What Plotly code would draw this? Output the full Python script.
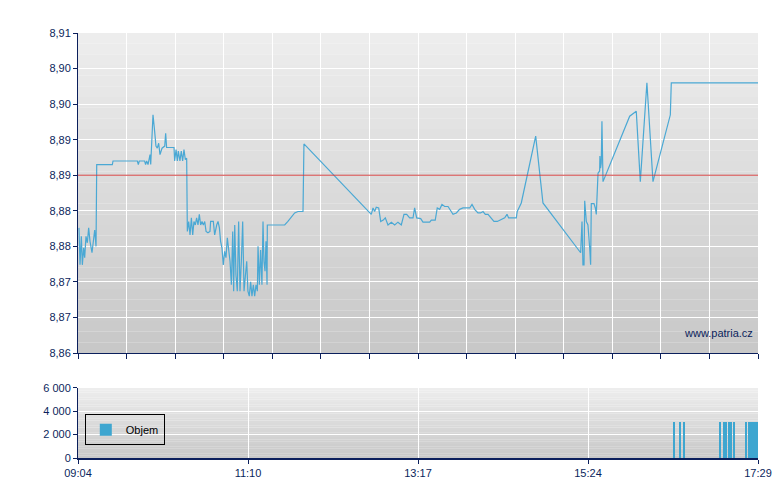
import plotly.graph_objects as go

# price ticks as (minutes after 09:04, price)
morning = [(0.74, 8.8776), (1.49, 8.8724), (2.48, 8.8764), (3.22, 8.8724), (4.21, 8.8748), (4.95, 8.8734),
           (5.94, 8.8764), (6.93, 8.8755), (7.92, 8.8776), (8.91, 8.8757), (10.4, 8.8741), (11.4, 8.8762),
           (12.4, 8.8773), (13.4, 8.8750), (13.9, 8.8865), (25.5, 8.8865), (26.0, 8.8870), (44.1, 8.8870),
           (44.8, 8.8865), (45.5, 8.8870), (49.5, 8.8870), (50.2, 8.8865), (51.0, 8.8870), (52.0, 8.8865),
           (53.0, 8.8872), (53.5, 8.8879), (54.0, 8.8865), (55.0, 8.8902), (55.7, 8.8935), (56.9, 8.8912),
           (57.9, 8.8891), (58.9, 8.8888), (59.9, 8.8895), (60.9, 8.8879), (62.4, 8.8888), (64.4, 8.8891),
           (65.1, 8.8909), (65.8, 8.8889), (71.3, 8.8889), (71.8, 8.8870), (72.8, 8.8886), (73.8, 8.8870),
           (74.5, 8.8884), (75.7, 8.8870), (76.7, 8.8884), (77.7, 8.8870), (78.7, 8.8886), (79.7, 8.8872),
           (80.7, 8.8874), (81.2, 8.8771), (82.2, 8.8785), (83.2, 8.8766), (84.2, 8.8790), (85.2, 8.8766),
           (86.1, 8.8785), (87.1, 8.8780), (88.1, 8.8790), (89.1, 8.8780), (90.1, 8.8795), (91.1, 8.8780),
           (92.1, 8.8785), (93.1, 8.8780), (94.1, 8.8785), (95.1, 8.8771), (96.5, 8.8769), (98.0, 8.8771),
           (98.5, 8.8785), (100.5, 8.8785), (101.5, 8.8766), (103.0, 8.8780), (104.0, 8.8785), (105.0, 8.8776)]
midday = [(105.9, 8.8757), (106.9, 8.8748), (107.9, 8.8724), (108.9, 8.8743), (109.9, 8.8734),
          (110.9, 8.8762), (111.9, 8.8741), (112.9, 8.8729), (113.9, 8.8696), (114.9, 8.8771), (115.6, 8.8687),
          (116.4, 8.8780), (117.3, 8.8710), (118.3, 8.8687), (119.3, 8.8785), (120.3, 8.8687), (121.3, 8.8729),
          (122.3, 8.8785), (123.3, 8.8687), (124.3, 8.8705), (125.3, 8.8729), (126.2, 8.8687), (127.2, 8.8680),
          (128.2, 8.8700), (129.2, 8.8680), (130.2, 8.8696), (131.2, 8.8680), (132.2, 8.8696), (133.2, 8.8687),
          (133.7, 8.8750), (134.7, 8.8696), (135.6, 8.8745), (136.6, 8.8696), (137.4, 8.8785), (138.1, 8.8729),
          (138.9, 8.8715), (139.6, 8.8757), (140.4, 8.8696), (140.6, 8.8780), (153.5, 8.8780), (155.9, 8.8785),
          (160.9, 8.8797), (163.4, 8.8799), (167.1, 8.8799), (167.8, 8.8894)]
afternoon = [(217.8, 8.8795), (219.1, 8.8804), (220.3, 8.8799), (221.5, 8.8805), (223.3, 8.8804),
             (224.8, 8.8785), (226.7, 8.8787), (228.2, 8.8790), (230.2, 8.8780), (232.7, 8.8784),
             (235.2, 8.8780), (237.6, 8.8784), (240.1, 8.8780), (242.1, 8.8795), (244.1, 8.8795),
             (246.3, 8.8790), (248.8, 8.8790), (250.0, 8.8804), (251.5, 8.8790), (254.5, 8.8789),
             (256.2, 8.8784), (261.2, 8.8784), (262.4, 8.8787), (265.3, 8.8787), (266.8, 8.8804),
             (268.6, 8.8802), (270.3, 8.8809), (272.3, 8.8806), (274.8, 8.8806), (277.2, 8.8799),
             (278.5, 8.8795), (281.0, 8.8797), (283.4, 8.8802), (285.9, 8.8804), (290.9, 8.8804),
             (292.6, 8.8809), (294.6, 8.8802), (297.0, 8.8797), (299.0, 8.8797), (300.8, 8.8799),
             (302.5, 8.8795), (304.5, 8.8795), (306.5, 8.8790), (308.9, 8.8785), (311.4, 8.8785),
             (316.9, 8.8790), (318.6, 8.8795), (319.8, 8.8790), (325.5, 8.8790), (326.2, 8.8799),
             (329.2, 8.8811), (339.9, 8.8905), (345.3, 8.8811)]
late = [(373.3, 8.8741), (374.3, 8.8785), (375.0, 8.8724), (375.8, 8.8724), (376.3, 8.8814),
        (377.5, 8.8785), (378.7, 8.8780), (380.0, 8.8748), (380.7, 8.8724), (381.2, 8.8810), (383.2, 8.8810),
        (384.2, 8.8804), (384.9, 8.8795), (386.2, 8.8853), (387.4, 8.8856), (387.6, 8.8877), (388.1, 8.8860),
        (388.6, 8.8867), (389.1, 8.8926), (389.9, 8.8841), (409.7, 8.8933), (414.6, 8.8940), (417.6, 8.8841),
        (422.5, 8.8980), (427.0, 8.8841), (439.9, 8.8935), (440.6, 8.8980), (505.0, 8.8980)]
ref_price = 8.885

vol_min = [442.6, 447.1, 450.0, 476.8, 479.7, 481.2, 483.4, 484.9, 487.1, 496.0, 498.3, 499.0,
           500.5, 502.0, 503.5, 504.8]
volume = [3100] * 16

y_ticks = [8.86, 8.865, 8.87, 8.875, 8.88, 8.885, 8.89, 8.895, 8.90, 8.905]
y_labels = ["8,86", "8,87", "8,87", "8,88", "8,88", "8,89", "8,89", "8,90", "8,90", "8,91"]
x_ticks = [0, 126.25, 252.5, 378.75, 505]
x_labels = ["09:04", "11:10", "13:17", "15:24", "17:29"]

pts = morning + midday + afternoon + late
t_min = [p[0] for p in pts]
price = [p[1] for p in pts]

navy = "#0b1f5c"
font = dict(family="Liberation Sans, Arial", size=11, color=navy)

fig = go.Figure()
fig.add_trace(go.Scatter(x=t_min, y=price, mode="lines", line=dict(color="#4aa8d4", width=1.2),
                         showlegend=False, xaxis="x", yaxis="y"))
fig.add_trace(go.Scatter(x=[0, 505], y=[ref_price, ref_price], mode="lines",
                         line=dict(color="#d04040", width=1), showlegend=False))
fig.add_trace(go.Bar(x=vol_min, y=volume, width=0.3, marker=dict(color="#3ea6d0", line=dict(width=0)),
                     name="Objem", xaxis="x2", yaxis="y2"))

# grey vertical gradient backgrounds
n = 30
for dom in [(0.247, 1.0), (0.0, 0.165)]:
    for i in range(n):
        c = int(200 + (238 - 200) * (i + 0.5) / n)
        fig.add_shape(type="rect", xref="paper", yref="paper", x0=0, x1=1,
                      y0=dom[0] + (dom[1] - dom[0]) * i / n, y1=dom[0] + (dom[1] - dom[0]) * (i + 1) / n,
                      fillcolor=f"rgb({c},{c},{c})", line=dict(width=0), layer="below")

fig.add_annotation(text="www.patria.cz", xref="paper", yref="paper", x=0.995, y=0.275,
                   xanchor="right", yanchor="bottom", showarrow=False, font=font)

fig.update_layout(
    width=780, height=490, margin=dict(l=70, r=30, t=25, b=40),
    paper_bgcolor="white", plot_bgcolor="rgba(0,0,0,0)", font=font,
    bargap=0,
    xaxis=dict(domain=[0, 1], range=[0, 505], anchor="y", tickvals=[505 / 14 * i for i in range(15)],
               showticklabels=False, ticks="outside", ticklen=5, tickcolor=navy, automargin=False,
               showgrid=True, gridcolor="white", gridwidth=1.2, showline=True, linecolor=navy, zeroline=False),
    yaxis=dict(domain=[0.247, 1], range=[8.86, 8.905], tickvals=y_ticks, ticktext=y_labels, automargin=False,
               ticks="outside", ticklen=4, tickcolor=navy, showgrid=True, gridcolor="white", gridwidth=1.2,
               showline=True, linecolor=navy, zeroline=False),
    xaxis2=dict(domain=[0, 1], range=[0, 505], anchor="y2", tickvals=x_ticks, ticktext=x_labels, automargin=False,
                ticks="outside", ticklen=4, tickcolor=navy, showgrid=True, gridcolor="white", gridwidth=1.2,
                showline=True, linecolor=navy, linewidth=1.5, zeroline=False),
    yaxis2=dict(domain=[0, 0.165], range=[0, 6000], tickvals=[0, 2000, 4000, 6000], automargin=False,
                ticktext=["0", "2 000", "4 000", "6 000"], ticks="outside", ticklen=4, tickcolor=navy,
                showgrid=True, gridcolor="white", gridwidth=1.2, showline=True, linecolor=navy, zeroline=False),
    legend=dict(x=0.01, y=0.03, xanchor="left", yanchor="bottom", bgcolor="rgba(0,0,0,0)",
                bordercolor="black", borderwidth=1, font=dict(family="Liberation Sans, Arial", size=11, color="black")),
)

fig.write_html("out.html")
